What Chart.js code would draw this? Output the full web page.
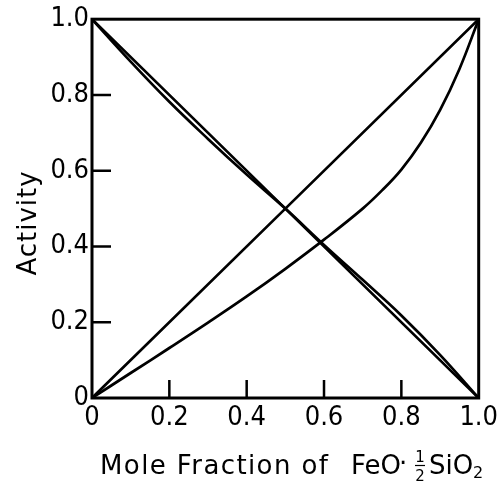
<!DOCTYPE html>
<html>
<head>
<meta charset="utf-8">
<script src="https://cdn.jsdelivr.net/npm/chart.js@4.4.1/dist/chart.umd.min.js"></script>
<style>
  html, body { margin: 0; padding: 0; background: #fff; }
  #wrap { width: 502px; height: 484px; }
</style>
</head>
<body>
<div id="wrap"><canvas id="activityChart" width="502" height="484"></canvas></div>
<script>
// ideal (Raoult) lines
const idealX = [0, 1];
const idealRise = [0, 1];
const idealFall = [1, 0];

// activity of FeO.1/2SiO2 (lower curve)
const silicateX = [0, 0.1, 0.2, 0.3, 0.4, 0.5, 0.6, 0.7, 0.75, 0.8, 0.85, 0.9, 0.95, 1.0];
const silicateAct = [0, 0.066, 0.132, 0.199, 0.268, 0.341, 0.418, 0.5, 0.548, 0.603, 0.673, 0.76, 0.868, 1.0];

// activity of the other component (falling curve, almost on the ideal line)
const otherX = [0, 0.1, 0.2, 0.3, 0.4, 0.5, 0.6, 0.7, 0.8, 0.9, 1.0];
const otherAct = [1, 0.888, 0.782, 0.684, 0.59, 0.5, 0.404, 0.312, 0.218, 0.114, 0];

const tickValues = [0, 0.2, 0.4, 0.6, 0.8, 1.0];

function pts(xs, ys) {
    return xs.map((x, i) => ({ x: x, y: ys[i] }));
}

const tickFont = { family: "DejaVu Sans Condensed", size: 27 };

function tickLabel(v) {
    return v === 0 ? "0" : v.toFixed(1);
}

const framePlugin = {
    id: "frame",
    afterDatasetsDraw(chart) {
        const ctx = chart.ctx;
        const a = chart.chartArea;
        const xs = chart.scales.x, ys = chart.scales.y;
        ctx.save();
        ctx.strokeStyle = "#000";
        ctx.lineWidth = 3;
        ctx.strokeRect(a.left, a.top, a.right - a.left, a.bottom - a.top);
        // inward tick marks
        ctx.lineWidth = 2.5;
        ctx.beginPath();
        tickValues.slice(1, -1).forEach(v => {
            const px = xs.getPixelForValue(v);
            ctx.moveTo(px, a.bottom);
            ctx.lineTo(px, a.bottom - 18);
            const py = ys.getPixelForValue(v);
            ctx.moveTo(a.left, py);
            ctx.lineTo(a.left + 19, py);
        });
        ctx.stroke();
        ctx.restore();
    },
    afterDraw(chart) {
        const ctx = chart.ctx;
        ctx.save();
        ctx.fillStyle = "#000";
        ctx.strokeStyle = "#000";
        // y title
        ctx.font = "26px 'DejaVu Sans'";
        ctx.textAlign = "center";
        ctx.textBaseline = "alphabetic";
        ctx.translate(36, 223);
        ctx.rotate(-Math.PI / 2);
        ctx.letterSpacing = "1px";
        ctx.fillText("Activity", 0, 0);
        ctx.restore();

        // x title
        ctx.save();
        ctx.fillStyle = "#000";
        ctx.strokeStyle = "#000";
        ctx.textAlign = "left";
        ctx.textBaseline = "alphabetic";
        ctx.font = "26px 'DejaVu Sans'";
        const base = 474;
        const first = "Mole Fraction of";
        const w0 = ctx.measureText(first).width;
        const sp = (228 - w0) / (first.length - 1);
        ctx.letterSpacing = sp.toFixed(2) + "px";
        ctx.fillText(first, 100, base);
        ctx.letterSpacing = "0px";
        ctx.fillText("FeO", 351, base);
        ctx.fillText("\u00b7", 399, base - 2);
        ctx.font = "15px 'DejaVu Sans'";
        ctx.textAlign = "center";
        ctx.fillText("1", 420, 462);
        ctx.fillText("2", 420, 481);
        ctx.lineWidth = 1.2;
        ctx.beginPath();
        ctx.moveTo(415, 465.5);
        ctx.lineTo(425, 465.5);
        ctx.stroke();
        ctx.textAlign = "left";
        ctx.font = "26px 'DejaVu Sans'";
        ctx.fillText("SiO", 429, base);
        ctx.font = "16px 'DejaVu Sans'";
        ctx.fillText("2", 473, base + 4);
        ctx.restore();
    }
};

const lineStyle = {
    borderColor: "#000",
    borderWidth: 2.7,
    pointRadius: 0,
    fill: false,
    tension: 0.4
};

new Chart(document.getElementById("activityChart").getContext("2d"), {
    type: "line",
    data: {
        datasets: [
            Object.assign({ label: "ideal rise", data: pts(idealX, idealRise) }, lineStyle),
            Object.assign({ label: "ideal fall", data: pts(idealX, idealFall) }, lineStyle),
            Object.assign({ label: "FeO.1/2SiO2", data: pts(silicateX, silicateAct) }, lineStyle),
            Object.assign({ label: "other", data: pts(otherX, otherAct) }, lineStyle)
        ]
    },
    options: {
        responsive: false,
        animation: false,
        events: [],
        layout: { padding: { top: 18, right: 22, left: 0, bottom: 0 } },
        plugins: {
            legend: { display: false },
            tooltip: { enabled: false }
        },
        scales: {
            x: {
                type: "linear",
                min: 0,
                max: 1,
                afterBuildTicks: s => { s.ticks = tickValues.map(v => ({ value: v })); },
                afterFit: s => { s.height = 86; },
                grid: { display: false, drawTicks: false },
                border: { display: false },
                ticks: {
                    color: "#000",
                    font: tickFont,
                    padding: 4,
                    maxRotation: 0,
                    callback: v => tickLabel(v)
                }
            },
            y: {
                type: "linear",
                min: 0,
                max: 1,
                afterBuildTicks: s => { s.ticks = tickValues.map(v => ({ value: v })); },
                afterFit: s => { s.width = 92; },
                grid: { display: false, drawTicks: false },
                border: { display: false },
                ticks: {
                    color: "#000",
                    font: tickFont,
                    padding: 3,
                    callback: v => tickLabel(v)
                }
            }
        }
    },
    plugins: [framePlugin]
});
</script>
</body>
</html>
